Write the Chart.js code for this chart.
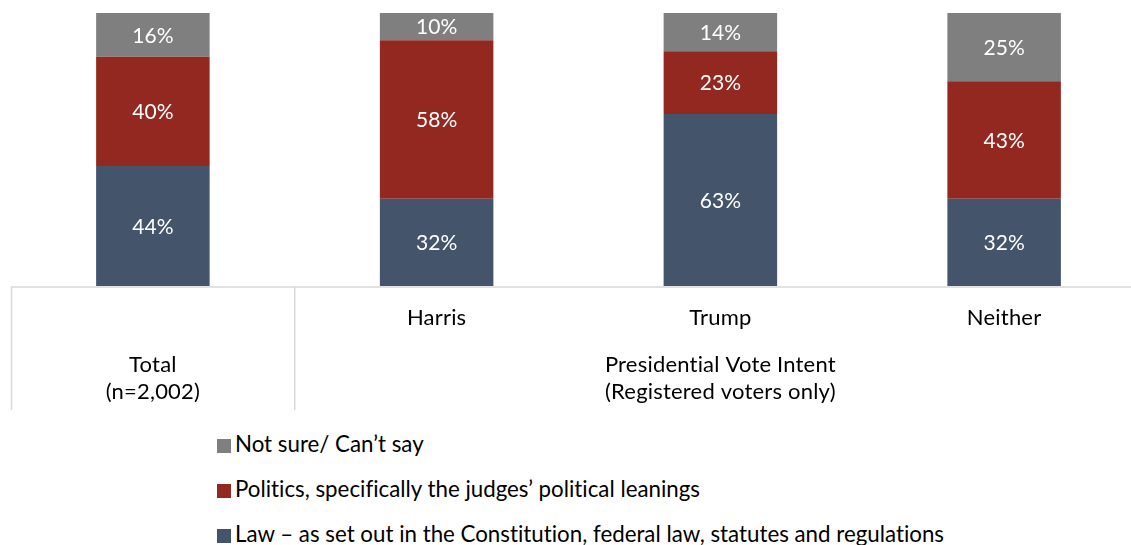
<!DOCTYPE html>
<html>
<head>
<meta charset="utf-8">
<script src="https://cdn.jsdelivr.net/npm/chart.js@4.4.1/dist/chart.umd.min.js"></script>
<style>
  html, body { margin: 0; padding: 0; background: #fff; overflow: hidden; width: 1131px; height: 545px; }
  #wrap { position: absolute; left: 0; top: 0; width: 1146px; height: 420px; }
  #legend { position: absolute; left: 217px; top: 430px; font-family: Lato, sans-serif; font-size: 22.3px; color: #000; font-variant-ligatures: none; }
  #legend div { height: 45px; line-height: 28px; white-space: nowrap; }
  #legend span.box { display: inline-block; width: 14px; height: 14px; margin-right: 4px; vertical-align: -1px; }
</style>
</head>
<body>
<div id="wrap"><canvas id="myChart"></canvas></div>
<div id="legend"></div>
<script>
// categories along the bottom
const groups = ['Total', 'Harris', 'Trump', 'Neither'];
const groupSub = ['(n=2,002)', '', '', ''];

// series, bottom to top (percent)
const lawVals      = [44, 32, 63, 32];
const politicsVals = [40, 58, 23, 43];
const notSureVals  = [16, 10, 14, 25];

const seriesNames = [
  'Law \u2013 as set out in the Constitution, federal law, statutes and regulations',
  'Politics, specifically the judges\u2019 political leanings',
  'Not sure/ Can\u2019t say'
];
const colors = ['#44546A', '#922820', '#7F7F7F'];

const FONT = 'Lato, sans-serif';

const data = {
  labels: groups,
  datasets: [
    { label: seriesNames[0], data: lawVals, backgroundColor: colors[0] },
    { label: seriesNames[1], data: politicsVals, backgroundColor: colors[1] },
    { label: seriesNames[2], data: notSureVals, backgroundColor: colors[2] }
  ]
};

// value labels inside the bar pieces
const valueLabels = {
  id: 'valueLabels',
  afterDatasetsDraw(chart) {
    const ctx = chart.ctx;
    ctx.save();
    ctx.fillStyle = '#fff';
    ctx.font = '21px ' + FONT;
    ctx.textAlign = 'center';
    ctx.textBaseline = 'middle';
    chart.data.datasets.forEach(function(ds, i) {
      chart.getDatasetMeta(i).data.forEach(function(bar, j) {
        const p = bar.getCenterPoint();
        ctx.fillText(ds.data[j] + '%', p.x, p.y + 1);
      });
    });
    ctx.restore();
  }
};

// table-ish category axis under the bars
const tableAxis = {
  id: 'tableAxis',
  afterDraw(chart) {
    const ctx = chart.ctx;
    const x = chart.scales.x;
    const area = chart.chartArea;
    const base = area.bottom + 1;
    const step = x.getPixelForValue(1) - x.getPixelForValue(0);
    const left = x.getPixelForValue(0) - step / 2;
    const split = x.getPixelForValue(0) + step / 2;
    ctx.save();
    ctx.strokeStyle = '#D9D9D9';
    ctx.lineWidth = 1.5;
    ctx.beginPath();
    ctx.moveTo(left, base); ctx.lineTo(chart.width, base);
    ctx.moveTo(left + 0.5, base); ctx.lineTo(left + 0.5, base + 123);
    ctx.moveTo(split, base); ctx.lineTo(split, base + 123);
    ctx.stroke();

    ctx.fillStyle = '#000';
    ctx.font = '22px ' + FONT;
    ctx.letterSpacing = '0.2px';
    ctx.textAlign = 'center';
    ctx.textBaseline = 'middle';
    for (let i = 1; i < groups.length; i++) {
      ctx.fillText(groups[i], x.getPixelForValue(i), base + 31);
    }
    ctx.fillText(groups[0], x.getPixelForValue(0), base + 78);
    ctx.fillText(groupSub[0], x.getPixelForValue(0), base + 105);
    ctx.fillText('Presidential Vote Intent', x.getPixelForValue(2), base + 78);
    ctx.fillText('(Registered voters only)', x.getPixelForValue(2), base + 105);
    ctx.restore();
  }
};

const config = {
  type: 'bar',
  data: data,
  options: {
    responsive: true,
    maintainAspectRatio: false,
    animation: false,
    layout: { padding: { top: 13, bottom: 134, left: 11, right: 0 } },
    datasets: { bar: { categoryPercentage: 1, barPercentage: 0.4, borderWidth: 0 } },
    scales: {
      x: { display: false, stacked: true },
      y: { display: false, stacked: true, min: 0, max: 100 }
    },
    plugins: { legend: { display: false }, tooltip: { enabled: false } }
  },
  plugins: [valueLabels, tableAxis]
};

const myChart = new Chart(document.getElementById('myChart'), config);

// vertical legend, top series first
const legend = document.getElementById('legend');
for (let i = data.datasets.length - 1; i >= 0; i--) {
  const row = document.createElement('div');
  const box = document.createElement('span');
  box.className = 'box';
  box.style.background = data.datasets[i].backgroundColor;
  row.appendChild(box);
  row.appendChild(document.createTextNode(data.datasets[i].label));
  legend.appendChild(row);
}
</script>
</body>
</html>
